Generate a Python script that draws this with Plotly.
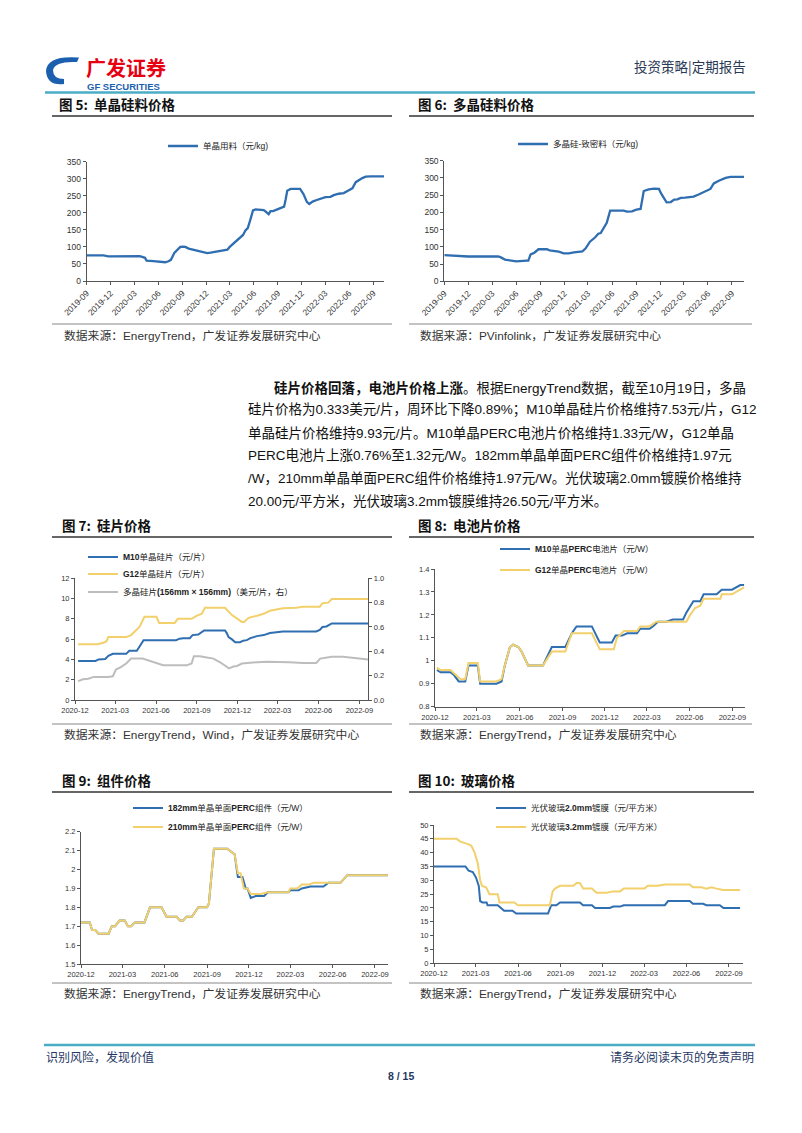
import plotly.graph_objects as go

W, H = 802, 1133
OX, OY = 8, 8  # page body offset of the plot div
def fx(x): return (x - OX) / W
def fy(y): return 1 - (y - OY) / H

CJK = "Liberation Sans, Noto Sans CJK SC"
BLUE = "#2F6EB0"
GOLD = "#F2D06B"
GRAY = "#BDBDBD"
AX = "#555555"

# ---------------- data ----------------
c5_dates = ["2019-09-01","2019-11-04","2019-11-23","2020-03-01","2020-03-22","2020-04-11","2020-04-17",
            "2020-05-13","2020-06-08","2020-06-27","2020-07-10","2020-07-19","2020-08-01","2020-08-11",
            "2020-08-24","2020-09-06","2020-09-12","2020-09-25","2020-10-08","2020-10-21","2020-11-03",
            "2020-11-22","2020-12-05","2020-12-18","2021-01-06","2021-01-19","2021-02-01","2021-02-20",
            "2021-03-01","2021-03-13","2021-03-26","2021-04-08","2021-04-21","2021-04-30","2021-05-09",
            "2021-05-19","2021-05-29","2021-06-08","2021-06-27","2021-07-09","2021-07-19","2021-07-28",
            "2021-08-04","2021-08-14","2021-08-30","2021-09-12","2021-09-25","2021-10-01","2021-10-07",
            "2021-10-20","2021-11-08","2021-11-25","2021-12-08","2021-12-21","2021-12-30","2022-01-12",
            "2022-01-25","2022-02-07","2022-02-20","2022-03-02","2022-03-21","2022-04-03","2022-04-22",
            "2022-05-11","2022-05-27","2022-06-13","2022-06-26","2022-07-08","2022-07-21","2022-08-03",
            "2022-08-22","2022-10-12"]
c5_mono = [75,75,72,72,73,68,60,58,56,55,58,62,82,90,100,101,100,95,93,90,87,85,82,83,86,88,91,92,
           100,108,118,125,135,148,155,180,207,210,209,208,202,196,205,205,210,214,218,240,265,270,271,
           270,255,232,226,233,237,240,244,246,247,252,256,258,265,272,290,296,302,306,307,307]

c6_dates = ["2019-09-01","2019-10-11","2019-10-30","2019-12-01","2020-03-24","2020-04-02","2020-04-19",
            "2020-05-08","2020-06-01","2020-07-11","2020-07-17","2020-07-26","2020-08-09","2020-08-25",
            "2020-09-26","2020-10-06","2020-10-21","2020-11-10","2020-11-29","2020-12-18","2021-01-07",
            "2021-01-20","2021-02-08","2021-02-20","2021-03-09","2021-03-28","2021-04-10","2021-04-19",
            "2021-04-30","2021-05-12","2021-05-25","2021-06-13","2021-07-15","2021-07-28","2021-08-16",
            "2021-09-02","2021-09-18","2021-09-30","2021-10-19","2021-11-08","2021-11-27","2021-12-05",
            "2021-12-16","2021-12-26","2022-01-11","2022-01-24","2022-02-05","2022-02-18","2022-03-07",
            "2022-04-08","2022-04-27","2022-05-23","2022-06-11","2022-06-24","2022-07-13","2022-08-08",
            "2022-08-27","2022-10-17"]
c6_poly = [76,75,73,72,72,70,63,60,58,60,60,78,83,93,93,90,88,86,81,81,84,86,87,95,115,127,138,140,
           155,170,205,205,205,202,203,208,210,262,267,269,268,255,240,229,230,237,238,242,243,246,
           252,262,268,284,292,300,303,303]

c7_m10_dates = ["2020-12-08","2021-01-16","2021-01-23","2021-02-07","2021-02-14","2021-02-21","2021-02-24",
                "2021-03-26","2021-04-02","2021-04-19","2021-04-26","2021-05-04","2021-07-16","2021-07-24",
                "2021-08-01","2021-08-16","2021-08-22","2021-09-04","2021-09-17","2021-11-03","2021-11-07",
                "2021-11-11","2021-11-18","2021-11-26","2021-12-07","2021-12-14","2021-12-22","2021-12-30",
                "2022-01-14","2022-01-29","2022-02-12","2022-02-26","2022-03-13","2022-05-27","2022-06-04",
                "2022-06-10","2022-06-19","2022-07-01","2022-09-21"]
c7_m10 = [3.85,3.85,4.0,4.05,4.35,4.45,4.55,4.55,4.85,4.85,5.4,5.9,5.9,6.05,6.1,6.1,6.4,6.45,6.85,6.85,
          6.6,6.2,6.0,5.7,5.7,5.85,5.9,6.1,6.3,6.4,6.6,6.65,6.75,6.75,6.9,7.2,7.25,7.55,7.55]

c7_g12_dates = ["2020-12-08","2021-01-20","2021-02-03","2021-02-10","2021-02-14","2021-03-26","2021-04-06",
                "2021-04-19","2021-04-25","2021-05-06","2021-06-02","2021-06-08","2021-07-13","2021-07-20",
                "2021-08-20","2021-08-31","2021-09-12","2021-09-19","2021-11-03","2021-11-18","2021-11-30",
                "2021-12-11","2021-12-16","2021-12-26","2022-01-14","2022-01-29","2022-02-12","2022-02-26",
                "2022-03-13","2022-04-12","2022-04-27","2022-06-04","2022-06-10","2022-06-23","2022-07-01",
                "2022-09-21"]
c7_g12 = [5.5,5.5,5.65,5.8,6.2,6.2,6.4,6.9,7.2,8.2,8.2,7.6,7.6,8.0,8.0,8.3,8.5,9.1,9.1,8.4,8.0,7.7,
          7.7,8.1,8.3,8.5,8.8,8.95,9.05,9.1,9.2,9.2,9.55,9.6,9.95,9.95]

c7_poly_dates = ["2020-12-08","2020-12-19","2020-12-31","2021-01-12","2021-02-14","2021-02-24","2021-03-03",
                 "2021-03-14","2021-03-26","2021-04-06","2021-05-02","2021-05-17","2021-06-02","2021-06-17",
                 "2021-08-09","2021-08-20","2021-08-25","2021-09-08","2021-09-23","2021-10-08","2021-10-23",
                 "2021-11-03","2021-11-12","2021-11-22","2021-11-30","2021-12-11","2021-12-22","2022-01-14",
                 "2022-02-05","2022-03-13","2022-03-28","2022-04-27","2022-05-27","2022-06-05","2022-06-19",
                 "2022-07-01","2022-07-26","2022-08-25","2022-09-06","2022-09-21"]
c7_poly = [0.155,0.17,0.175,0.19,0.19,0.195,0.25,0.27,0.30,0.34,0.34,0.32,0.30,0.285,0.285,0.30,0.36,
           0.36,0.35,0.34,0.31,0.28,0.26,0.275,0.28,0.30,0.305,0.31,0.315,0.315,0.31,0.305,0.305,0.34,
           0.345,0.355,0.355,0.345,0.335,0.333]

c8_m10_dates = ["2020-12-05","2020-12-13","2021-01-03","2021-01-10","2021-01-21","2021-02-04","2021-02-11",
                "2021-03-03","2021-03-08","2021-04-12","2021-04-23","2021-04-30","2021-05-11","2021-05-18",
                "2021-05-29","2021-06-05","2021-06-12","2021-06-19","2021-07-21","2021-08-09","2021-09-07",
                "2021-09-21","2021-10-01","2021-11-03","2021-11-20","2021-12-16","2021-12-24","2022-01-07",
                "2022-01-18","2022-02-08","2022-02-15","2022-03-07","2022-03-14","2022-03-25","2022-04-12",
                "2022-04-26","2022-05-18","2022-05-25","2022-06-09","2022-06-24","2022-07-01","2022-07-29",
                "2022-08-09","2022-08-31","2022-09-18","2022-09-26"]
c8_m10 = [0.96,0.95,0.95,0.94,0.91,0.91,0.98,0.98,0.90,0.90,0.91,0.98,1.06,1.07,1.06,1.04,1.01,0.98,
          0.98,1.06,1.06,1.12,1.15,1.15,1.08,1.08,1.11,1.11,1.12,1.12,1.14,1.14,1.15,1.17,1.17,1.18,
          1.18,1.21,1.26,1.26,1.29,1.29,1.31,1.31,1.33,1.33]

c8_g12_dates = ["2020-12-05","2020-12-13","2021-01-03","2021-01-14","2021-01-25","2021-02-04","2021-02-11",
                "2021-03-03","2021-03-08","2021-04-12","2021-04-23","2021-04-30","2021-05-11","2021-05-18",
                "2021-05-29","2021-06-05","2021-06-12","2021-06-19","2021-07-21","2021-08-09","2021-09-07",
                "2021-09-21","2021-11-03","2021-11-20","2021-12-20","2021-12-27","2022-01-11","2022-02-08",
                "2022-02-15","2022-03-07","2022-03-21","2022-05-25","2022-06-02","2022-06-13","2022-06-24",
                "2022-07-01","2022-08-06","2022-08-09","2022-08-31","2022-09-18","2022-09-26"]
c8_g12 = [0.97,0.96,0.96,0.94,0.92,0.92,0.99,0.99,0.91,0.91,0.92,0.98,1.06,1.07,1.06,1.04,1.01,0.98,
          0.98,1.04,1.04,1.12,1.12,1.05,1.05,1.10,1.13,1.13,1.15,1.15,1.17,1.17,1.20,1.23,1.24,1.27,
          1.27,1.29,1.29,1.31,1.32]

c9_182_dates = ["2020-12-01","2020-12-20","2020-12-25","2021-01-01","2021-01-08","2021-01-30","2021-02-06",
                "2021-02-13","2021-02-23","2021-03-06","2021-03-13","2021-03-20","2021-03-28","2021-04-18",
                "2021-04-30","2021-05-25","2021-06-05","2021-06-27","2021-07-04","2021-07-11","2021-07-18",
                "2021-07-30","2021-08-13","2021-09-01","2021-09-05","2021-09-16","2021-10-15","2021-10-26",
                "2021-10-31","2021-11-07","2021-11-17","2021-11-24","2021-11-28","2021-12-05","2021-12-16",
                "2022-01-03","2022-01-11","2022-02-25","2022-03-01","2022-03-19","2022-03-26","2022-04-14",
                "2022-05-12","2022-05-23","2022-06-18","2022-07-03","2022-09-29"]
c9_182 = [1.72,1.72,1.68,1.68,1.66,1.66,1.70,1.70,1.73,1.73,1.70,1.70,1.72,1.72,1.80,1.80,1.75,1.75,
          1.73,1.73,1.75,1.75,1.80,1.80,1.82,2.11,2.11,2.09,2.08,1.96,1.96,1.90,1.90,1.85,1.86,1.86,
          1.88,1.88,1.89,1.89,1.90,1.91,1.91,1.93,1.93,1.97,1.97]

c9_210_dates = ["2020-12-01","2020-12-20","2020-12-25","2021-01-01","2021-01-08","2021-01-30","2021-02-06",
                "2021-02-13","2021-02-23","2021-03-06","2021-03-13","2021-03-20","2021-03-28","2021-04-18",
                "2021-04-30","2021-05-25","2021-06-05","2021-06-27","2021-07-04","2021-07-11","2021-07-18",
                "2021-07-30","2021-08-13","2021-09-01","2021-09-05","2021-09-16","2021-10-15","2021-10-26",
                "2021-10-31","2021-11-07","2021-11-13","2021-11-20","2021-11-28","2021-12-05","2021-12-27",
                "2022-01-11","2022-02-25","2022-03-01","2022-03-16","2022-03-26","2022-04-10","2022-04-21",
                "2022-06-18","2022-07-03","2022-09-29"]
c9_210 = [1.72,1.72,1.68,1.68,1.66,1.66,1.70,1.70,1.73,1.73,1.70,1.70,1.72,1.72,1.80,1.80,1.75,1.75,
          1.73,1.73,1.75,1.75,1.80,1.80,1.82,2.11,2.11,2.09,2.08,1.98,1.98,1.90,1.90,1.87,1.87,1.88,
          1.88,1.90,1.90,1.92,1.92,1.93,1.93,1.97,1.97]

c10_20_dates = ["2020-12-01","2021-02-07","2021-02-14","2021-02-23","2021-03-02","2021-03-08","2021-03-11",
                "2021-03-16","2021-03-25","2021-03-27","2021-04-18","2021-04-25","2021-05-02","2021-05-20",
                "2021-05-28","2021-08-05","2021-08-12","2021-08-23","2021-08-31","2021-10-13","2021-10-20",
                "2021-11-08","2021-11-15","2021-12-17","2021-12-24","2022-01-08","2022-01-16","2022-04-15",
                "2022-04-22","2022-06-08","2022-06-15","2022-07-07","2022-07-14","2022-08-12","2022-08-20",
                "2022-09-25"]
c10_20 = [35,35,33.5,33,31,28,22.5,22,22,21,21,20,19,19,18,18,21,21,22,22,21,21,20,20,20.5,20.5,21,21,
          22.5,22.5,21.5,21.5,21,21,20,20]

c10_32_dates = ["2020-12-01","2021-01-19","2021-01-27","2021-02-07","2021-02-14","2021-02-20","2021-02-27",
                "2021-03-06","2021-03-11","2021-03-15","2021-03-24","2021-03-31","2021-04-18","2021-04-22",
                "2021-05-24","2021-06-01","2021-08-09","2021-08-15","2021-08-20","2021-08-31","2021-09-29",
                "2021-10-06","2021-10-13","2021-10-20","2021-11-08","2021-11-18","2021-12-10","2021-12-24",
                "2022-01-08","2022-01-16","2022-03-02","2022-03-09","2022-03-31","2022-04-15","2022-06-08",
                "2022-06-15","2022-07-03","2022-07-14","2022-07-25","2022-08-05","2022-08-20","2022-09-25"]
c10_32 = [45,45,44,43.5,43,42.5,40,36,30,28,27.5,25,25,22,22,21,21,26,27,28,28,29,29,27,27,25.5,25.5,
          26,26,27,27,28,28,28.5,28.5,27.5,27.5,27,27.5,27,26.5,26.5]

ticks_a = ["2019-09","2019-12","2020-03","2020-06","2020-09","2020-12","2021-03","2021-06","2021-09",
           "2021-12","2022-03","2022-06","2022-09"]
ticks_b = ["2020-12","2021-03","2021-06","2021-09","2021-12","2022-03","2022-06","2022-09"]

names5 = ["单晶用料（元/kg)"]
names6 = ["多晶硅-致密料（元/kg)"]
names7 = ["<b>M10</b>单晶硅片（元/片）", "<b>G12</b>单晶硅片（元/片）",
          "多晶硅片<b>(156mm × 156mm)</b>（美元/片，右）"]
names8 = ["<b>M10</b>单晶<b>PERC</b>电池片（元/W）", "<b>G12</b>单晶<b>PERC</b>电池片（元/W）"]
names9 = ["<b>182mm</b>单晶单面<b>PERC</b>组件（元/W）", "<b>210mm</b>单晶单面<b>PERC</b>组件（元/W）"]
names10 = ["光伏玻璃<b>2.0mm</b>镀膜（元/平方米）", "光伏玻璃<b>3.2mm</b>镀膜（元/平方米）"]

fig = go.Figure()

def line(x, y, name, color, xa, ya, leg, w=2):
    fig.add_trace(go.Scatter(x=x, y=y, name=name, mode="lines", line=dict(color=color, width=w),
                             xaxis=xa, yaxis=ya, legend=leg, showlegend=True))

line(c5_dates, c5_mono, names5[0], BLUE, "x", "y", "legend", 2.3)
line(c6_dates, c6_poly, names6[0], BLUE, "x2", "y2", "legend2", 2.3)
line(c7_m10_dates, c7_m10, names7[0], BLUE, "x3", "y3", "legend3")
line(c7_g12_dates, c7_g12, names7[1], GOLD, "x3", "y3", "legend4")
line(c7_poly_dates, c7_poly, names7[2], GRAY, "x3", "y4", "legend5")
line(c8_m10_dates, c8_m10, names8[0], BLUE, "x4", "y5", "legend6")
line(c8_g12_dates, c8_g12, names8[1], GOLD, "x4", "y5", "legend7")
line(c9_182_dates, c9_182, names9[0], BLUE, "x5", "y6", "legend8")
line(c9_210_dates, c9_210, names9[1], GOLD, "x5", "y6", "legend9")
line(c10_20_dates, c10_20, names10[0], BLUE, "x6", "y7", "legend10")
line(c10_32_dates, c10_32, names10[1], GOLD, "x6", "y7", "legend11")

def xax(x0, x1, anchor, rng, labels, size=7.5, angle=0):
    return dict(domain=[fx(x0), fx(x1)], anchor=anchor, type="date", range=rng, automargin=False,
                tickvals=[l + "-01" for l in labels], ticktext=labels, tickangle=angle,
                showline=True, linecolor=AX, linewidth=1, ticks="outside", ticklen=3, tickcolor=AX,
                showgrid=False, zeroline=False, tickfont=dict(family="Liberation Sans", size=size, color="#333"))

def yax(y0, y1, anchor, rng, dtick, size=7.5, side="left", fmt=None, overlay=None):
    d = dict(domain=[fy(y0), fy(y1)], anchor=anchor, range=rng, dtick=dtick, side=side, automargin=False,
             showline=True, linecolor=AX, linewidth=1, ticks="outside", ticklen=3, tickcolor=AX,
             showgrid=False, zeroline=False, tickfont=dict(family="Liberation Sans", size=size, color="#333"))
    if fmt: d["tickformat"] = fmt
    if overlay: d["overlaying"] = overlay
    return d

layout = dict(
    template="none",
    width=W, height=H, margin=dict(l=0, r=0, t=0, b=0, pad=0, autoexpand=False),
    paper_bgcolor="white", plot_bgcolor="rgba(0,0,0,0)",
    xaxis=xax(86.7, 384, "y", ["2019-09-01", "2022-10-12"], ticks_a, 8.5, -45),
    yaxis=yax(281, 161.7, "x", [0, 350], 50, 8.5),
    xaxis2=xax(444.3, 744, "y2", ["2019-09-01", "2022-10-17"], ticks_a, 8.5, -45),
    yaxis2=yax(281.3, 160.7, "x2", [0, 350], 50, 8.5),
    xaxis3=xax(75, 368.3, "y3", ["2020-12-01", "2022-09-21"], ticks_b),
    yaxis3=yax(700, 578.3, "x3", [0, 12], 2),
    yaxis4=yax(700, 578.3, "x3", [0, 1], 0.2, side="right", fmt=".1f", overlay="y3"),
    xaxis4=xax(435, 745, "y5", ["2020-12-01", "2022-09-28"], ticks_b),
    yaxis5=yax(706.7, 569, "x4", [0.8, 1.4], 0.1),
    xaxis5=xax(81, 388.3, "y6", ["2020-12-01", "2022-09-30"], ticks_b),
    yaxis6=yax(964, 831.7, "x5", [1.5, 2.2], 0.1),
    xaxis6=xax(434, 743.3, "y7", ["2020-12-01", "2022-10-02"], ticks_b),
    yaxis7=yax(963.3, 825, "x6", [0, 50], 5),
)

def leg(xt, y):
    return dict(x=fx(xt - 40), y=fy(y), xanchor="left", yanchor="middle", bgcolor="rgba(0,0,0,0)",
                borderwidth=0, itemwidth=30, font=dict(family=CJK, size=8.5, color="#222"))

leg_pos = [(203, 146), (553, 144), (123, 557), (123, 574), (123, 592), (535, 549), (535, 570),
           (168, 808), (168, 827), (531, 808), (531, 827)]
for i, (xt, y) in enumerate(leg_pos):
    key = "legend" if i == 0 else "legend%d" % (i + 1)
    layout[key] = leg(xt, y)

fig.update_layout(**layout)

# ---------------- page furniture ----------------
def hline(x0, x1, y, color, w):
    fig.add_shape(type="line", xref="paper", yref="paper", x0=fx(x0), x1=fx(x1), y0=fy(y), y1=fy(y),
                  line=dict(color=color, width=w))

def text(x, y, s, size, color="#222", anchor="left", family=CJK):
    fig.add_annotation(xref="paper", yref="paper", x=fx(x), y=fy(y), text=s, showarrow=False,
                       xanchor=anchor, yanchor="middle", font=dict(family=family, size=size, color=color))

# right page edge
fig.add_shape(type="line", xref="paper", yref="paper", x0=fx(801), x1=fx(801), y0=0, y1=1,
              line=dict(color="#9A9A9A", width=1))

# header
hline(45, 755, 92.5, "#4BACC6", 2.5)
text(748, 66, "投资策略|定期报告", 13.5, "#2B3A55", "right", "Noto Sans CJK SC")
text(84, 67, "<b>广发证券</b>", 20, "#E60012", "left", "Noto Sans CJK SC")
text(85, 87, "<b>GF SECURITIES</b>", 9.5, "#1D5FAF", "left", "Liberation Sans")

def path(pts):
    s = ""
    for cmd, coords in pts:
        s += cmd + " " + " ".join("%.5f,%.5f" % (fx(a), fy(b)) for a, b in coords) + " "
    return s + "Z"

fig.add_shape(type="path", xref="paper", yref="paper", line=dict(width=0), fillcolor="#1D5FAF",
              path=path([("M", [(79, 57.5)]), ("Q", [(47, 55), (46, 71)]), ("Q", [(47, 86), (64, 84)]),
                         ("L", [(64, 79)]), ("Q", [(53, 79), (53, 70)]), ("Q", [(55, 61), (77, 62)])]))
fig.add_shape(type="path", xref="paper", yref="paper", line=dict(width=0), fillcolor="#E60012",
              path=path([("M", [(59, 63)]), ("L", [(81, 63), (80, 67.5), (66, 67.5), (66, 71),
                                               (77, 71), (76, 75), (66, 75), (66, 84), (59, 84)])]))

# figure titles & rules
titles = [(57, 104, "图 5:  单晶硅料价格"), (416, 104, "图 6:  多晶硅料价格"),
          (60, 525, "图 7:  硅片价格"), (416, 525, "图 8:  电池片价格"),
          (60, 780, "图 9:  组件价格"), (416, 780, "图 10:  玻璃价格")]
for x, y, s in titles:
    text(x, y, "<b>" + s + "</b>", 13.5, "#111", "left", "Noto Sans CJK SC")
for y in (116, 537, 792):
    hline(52, 392, y, "#333333", 1.3)
    hline(409, 754, y, "#333333", 1.3)

sources = [(62, 336, "数据来源：EnergyTrend，广发证券发展研究中心"),
           (418, 336, "数据来源：PVinfolink，广发证券发展研究中心"),
           (62, 735, "数据来源：EnergyTrend，Wind，广发证券发展研究中心"),
           (418, 735, "数据来源：EnergyTrend，广发证券发展研究中心"),
           (62, 994, "数据来源：EnergyTrend，广发证券发展研究中心"),
           (418, 994, "数据来源：EnergyTrend，广发证券发展研究中心")]
for x, y, s in sources:
    text(x, y, s, 11.8, "#333")
for y in (324, 724, 983):
    hline(52, 392, y, "#888888", 1)
    hline(409, 752, y, "#888888", 1)

# paragraph
para = [(272, 388, "<b>硅片价格回落，电池片价格上涨</b>。根据EnergyTrend数据，截至10月19日，多晶"),
        (246, 410.5, "硅片价格为0.333美元/片，周环比下降0.89%；M10单晶硅片价格维持7.53元/片，G12"),
        (246, 433, "单晶硅片价格维持9.93元/片。M10单晶PERC电池片价格维持1.33元/W，G12单晶"),
        (246, 455.5, "PERC电池片上涨0.76%至1.32元/W。182mm单晶单面PERC组件价格维持1.97元"),
        (246, 478, "/W，210mm单晶单面PERC组件价格维持1.97元/W。光伏玻璃2.0mm镀膜价格维持"),
        (246, 500.5, "20.00元/平方米，光伏玻璃3.2mm镀膜维持26.50元/平方米。")]
for x, y, s in para:
    text(x, y, s, 13.5, "#111")

# footer
hline(44, 755, 1045, "#4BACC6", 2.5)
text(44, 1056, "识别风险，发现价值", 12, "#1F3864", "left", "Noto Sans CJK SC")
text(756, 1056, "请务必阅读末页的免责声明", 12, "#1F3864", "right", "Noto Sans CJK SC")
text(401, 1076, "<b>8 / 15</b>", 10.5, "#1F3864", "center", "Liberation Sans")

fig.write_html("out.html")
